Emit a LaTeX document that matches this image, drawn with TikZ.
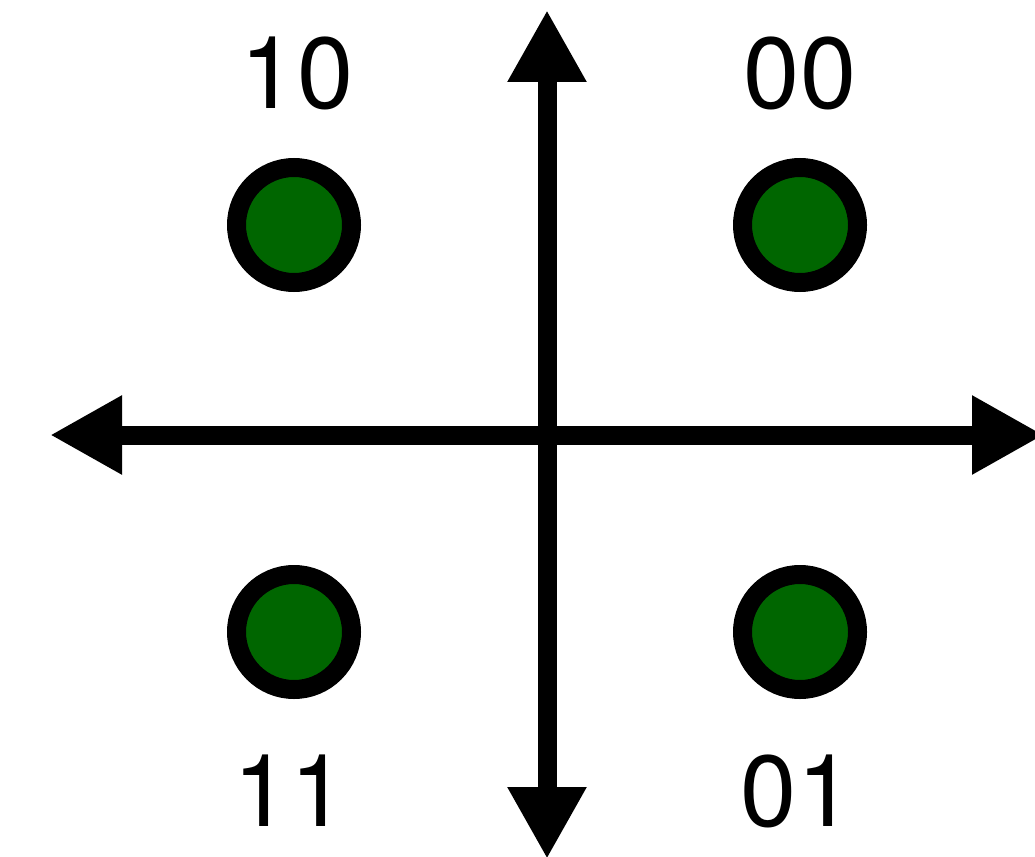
\documentclass[tikz,border=0pt]{standalone}
\usepackage{fontspec}
\setmainfont{TeX Gyre Heros}
\usetikzlibrary{arrows.meta}
\definecolor{dotgreen}{RGB}{0,102,0}
\begin{document}
\begin{tikzpicture}[x=1pt,y=-1pt,
  axis/.style={line width=19pt,{Triangle[length=72pt,width=74pt]}-{Triangle[length=72pt,width=74pt]}},
  dot/.style={circle,draw=black,fill=dotgreen,line width=19pt,minimum size=115pt,inner sep=0pt},
  lbl/.style={inner sep=0pt,font=\fontsize{101}{101}\selectfont}]
\useasboundingbox (0,0) rectangle (1035,856);
\clip (0,0) rectangle (1035,856);
\coordinate (L) at (50,435);
\coordinate (R) at (1044,435);
\coordinate (T) at (547,10);
\coordinate (B) at (547,859);
\draw[axis] (L) -- (R);
\draw[axis] (T) -- (B);
\node[dot] (p10) at (294,225) {};
\node[dot] (p00) at (800,225) {};
\node[dot] (p11) at (294,632) {};
\node[dot] (p01) at (800,632) {};
\node[lbl] (t10) at (297,73) {10};
\node[lbl] (t00) at (800,73) {00};
\node[lbl] (t11) at (290,791) {11};
\node[lbl] (t01) at (797,791) {01};
\end{tikzpicture}
\end{document}
